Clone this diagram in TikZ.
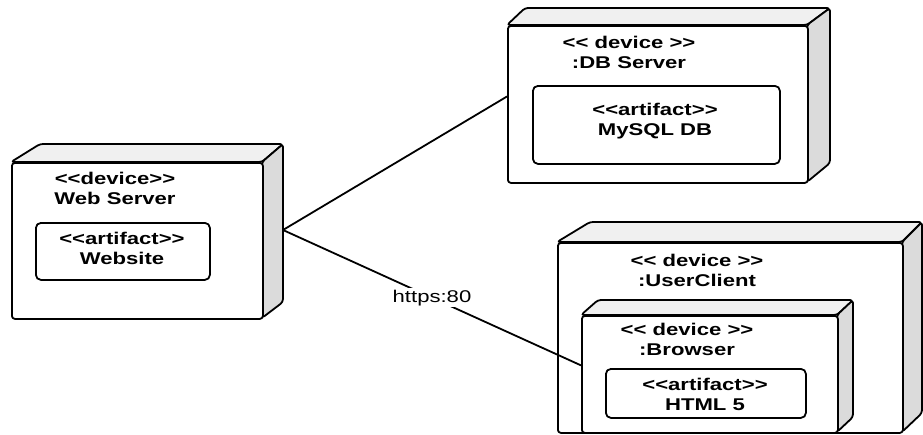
\documentclass[tikz,border=0pt]{standalone}
\usepackage{fontspec}
\setmainfont{Liberation Sans}[Ligatures=TeXOff]
\newcommand\wide[1]{\scalebox{1.3}[1]{#1}}
\begin{document}
\begin{tikzpicture}[x=1pt,y=-1pt,
  outline/.style={line width=1.8pt, line join=round},
  topface/.style={outline, fill=gray!12, rounded corners=3pt},
  sideface/.style={outline, fill=gray!28, rounded corners=3pt},
  frontface/.style={outline, draw, fill=white, rounded corners=3pt, inner sep=0pt, anchor=north west},
  artifactbox/.style={outline, draw, fill=white, rounded corners=5pt, inner sep=0pt, anchor=north west},
  boxtext/.style={font=\bfseries\fontsize{17}{20}\selectfont, align=center, inner sep=0pt},
  link/.style={line width=1.8pt},
  linklabel/.style={fill=white, inner sep=1.5pt, font=\fontsize{17}{20}\selectfont}
]
\useasboundingbox (0,0) rectangle (923,434);

% ---------- Web Server ----------
\draw[topface] (11,162) -- (40,144) -- (283,144) -- (262,162) -- cycle;
\draw[sideface] (262,162) -- (283,144) -- (283,302) -- (262,318) -- cycle;
\node[frontface, minimum width=251pt, minimum height=156pt] (ws) at (11,162) {};
\node[boxtext] (wslabel) at (115,188) {\wide{<<device>>}\\\wide{Web Server}};
\node[artifactbox, minimum width=174pt, minimum height=57pt] (website) at (35,222) {};
\node[boxtext] (websitelabel) at (122,248) {\wide{<<artifact>>}\\\wide{Website}};
\coordinate (wsport) at (283,230);

% ---------- DB Server ----------
\draw[topface] (507,25) -- (525,8) -- (830,8) -- (807,25) -- cycle;
\draw[sideface] (807,25) -- (830,8) -- (830,163) -- (807,182) -- cycle;
\node[frontface, minimum width=300pt, minimum height=157pt] (db) at (507,25) {};
\node[boxtext] (dblabel) at (629,52) {\wide{<< device >>}\\\wide{:DB Server}};
\node[artifactbox, minimum width=247pt, minimum height=78pt] (mysql) at (532,85) {};
\node[boxtext] (mysqllabel) at (655,121) {\wide{<<artifact>>}\\\wide{MySQL DB}};

% ---------- UserClient ----------
\draw[topface] (557,242) -- (590,222) -- (922,222) -- (902,242) -- cycle;
\draw[sideface] (902,242) -- (922,222) -- (922,413) -- (902,432) -- cycle;
\node[frontface, minimum width=345pt, minimum height=190pt] (uc) at (557,242) {};
\node[boxtext] (uclabel) at (697,270) {\wide{<< device >>}\\\wide{:UserClient}};

% ---------- Browser ----------
\draw[topface] (581,315) -- (598,300) -- (853,300) -- (837,315) -- cycle;
\draw[sideface] (837,315) -- (853,300) -- (853,417) -- (837,432) -- cycle;
\node[frontface, minimum width=256pt, minimum height=117pt] (br) at (581,315) {};
\node[boxtext] (brlabel) at (687,339) {\wide{<< device >>}\\\wide{:Browser}};
\node[artifactbox, minimum width=200pt, minimum height=49pt] (html) at (605,368) {};
\node[boxtext] (htmllabel) at (705,394) {\wide{<<artifact>>}\\\wide{HTML 5}};

% ---------- Connectors ----------
\draw[link] (wsport) -- (db.177.5);
\draw[link] (wsport) -- node[linklabel, pos=0.5] {\wide{https:80}} (br.176.6);
\end{tikzpicture}
\end{document}
